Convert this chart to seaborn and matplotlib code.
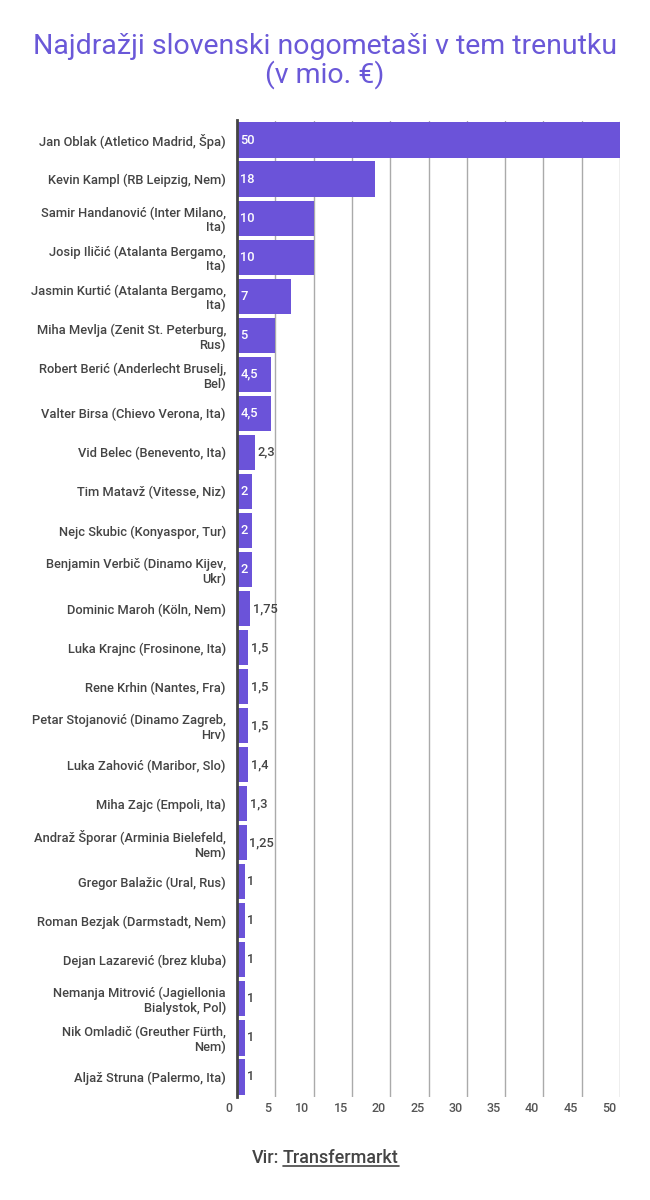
import matplotlib
matplotlib.use("Agg")
import matplotlib.pyplot as plt
import matplotlib.transforms as mtrans
import numpy as np
import pandas as pd
import seaborn as sb

# values (mio. EUR)
players = [
    "Jan Oblak (Atletico Madrid, Špa)",
    "Kevin Kampl (RB Leipzig, Nem)",
    "Samir Handanović (Inter Milano,\nIta)",
    "Josip Iličić (Atalanta Bergamo,\nIta)",
    "Jasmin Kurtić (Atalanta Bergamo,\nIta)",
    "Miha Mevlja (Zenit St. Peterburg,\nRus)",
    "Robert Berić (Anderlecht Bruselj,\nBel)",
    "Valter Birsa (Chievo Verona, Ita)",
    "Vid Belec (Benevento, Ita)",
    "Tim Matavž (Vitesse, Niz)",
    "Nejc Skubic (Konyaspor, Tur)",
    "Benjamin Verbič (Dinamo Kijev,\nUkr)",
    "Dominic Maroh (Köln, Nem)",
    "Luka Krajnc (Frosinone, Ita)",
    "Rene Krhin (Nantes, Fra)",
    "Petar Stojanović (Dinamo Zagreb,\nHrv)",
    "Luka Zahović (Maribor, Slo)",
    "Miha Zajc (Empoli, Ita)",
    "Andraž Šporar (Arminia Bielefeld,\nNem)",
    "Gregor Balažic (Ural, Rus)",
    "Roman Bezjak (Darmstadt, Nem)",
    "Dejan Lazarević (brez kluba)",
    "Nemanja Mitrović (Jagiellonia\nBialystok, Pol)",
    "Nik Omladič (Greuther Fürth,\nNem)",
    "Aljaž Struna (Palermo, Ita)",
]
values = [50, 18, 10, 10, 7, 5, 4.5, 4.5, 2.3, 2, 2, 2, 1.75, 1.5, 1.5, 1.5,
          1.4, 1.3, 1.25, 1, 1, 1, 1, 1, 1]
value_labels = ["50", "18", "10", "10", "7", "5", "4,5", "4,5", "2,3", "2", "2",
                "2", "1,75", "1,5", "1,5", "1,5", "1,4", "1,3", "1,25", "1", "1",
                "1", "1", "1", "1"]
xticks = [0, 5, 10, 15, 20, 25, 30, 35, 40, 45, 50]

title = "Najdražji slovenski nogometaši v tem trenutku\n(v mio. €)"

BAR = "#6b53d9"
TXT = "#444444"

data = pd.DataFrame({"player": players, "value": values})

sb.set_style("white")
plt.rcParams["font.family"] = ["Roboto", "DejaVu Sans"]

fig = plt.figure(figsize=(6.5, 12), dpi=100)
ax = fig.add_axes([237/650, 1 - 1096.5/1200, (620 - 237)/650, (1096.5 - 120.5)/1200])

sb.barplot(data=data, x="value", y="player", orient="h", color=BAR,
           saturation=1, width=0.9, edgecolor="none", ax=ax)

ax.set_xlim(0, 50)
ax.set_ylim(len(players) - 0.5, -0.5)
ax.set_xlabel("")
ax.set_ylabel("")

for s in ["top", "right", "bottom"]:
    ax.spines[s].set_visible(False)
ax.spines["left"].set_color(TXT)
ax.spines["left"].set_linewidth(2)
ax.spines["left"].set_zorder(5)

# vertical grid
ax.set_xticks(xticks)
ax.set_xticklabels([str(t) for t in xticks])
ax.grid(axis="x", color="#aaaaaa", linewidth=1)
ax.set_axisbelow(True)
ax.tick_params(axis="x", length=16, width=1, color="#aaaaaa", pad=-12,
               labelsize=9, labelcolor="#555555")
ax.tick_params(axis="y", length=0, pad=8, labelsize=9.3, labelcolor=TXT)
for t in ax.get_yticklabels():
    t.set_fontweight("medium")
    t.set_linespacing(1.15)

shift = mtrans.ScaledTranslation(-3/72, 0, fig.dpi_scale_trans)
for lab in ax.get_xticklabels():
    lab.set_horizontalalignment("right")
    lab.set_fontweight("medium")
    lab.set_transform(lab.get_transform() + shift)
t0 = ax.xaxis.get_major_ticks()[0]
t0.tick1line.set_color(TXT)
t0.tick1line.set_markeredgewidth(2)
t0.gridline.set_visible(False)

# value labels: inside (white) if they fit, otherwise beside the bar
fig.canvas.draw()
renderer = fig.canvas.get_renderer()
px_per_unit = ax.transData.transform((1, 0))[0] - ax.transData.transform((0, 0))[0]
for i, (v, s) in enumerate(zip(values, value_labels)):
    t = ax.text(0, i, s, fontsize=9.3, fontweight="medium", va="center")
    w = t.get_window_extent(renderer).width
    if v * px_per_unit >= w + 5:
        t.set_color("white")
        t.set_transform(ax.transData + mtrans.ScaledTranslation(2.5/72, 0, fig.dpi_scale_trans))
    else:
        t.set_x(v)
        t.set_color(TXT)
        t.set_transform(ax.transData + mtrans.ScaledTranslation(2/72, 0, fig.dpi_scale_trans))

fig.text(0.5, 1 - 61/1200, title, ha="center", va="center", fontsize=20.5,
         color="#6a58d8", linespacing=1.05)

fig.text(279/650, 1 - 1158/1200, "Vir:", ha="right", va="center",
         fontsize=13, color=TXT, fontweight="medium")
src = fig.text(283/650, 1 - 1158/1200, "Transfermarkt", ha="left", va="center",
               fontsize=13, color=TXT, fontweight="medium")
fig.canvas.draw()
bb = src.get_window_extent(renderer)
y_line = (bb.y0 + 1) / fig.bbox.height
fig.add_artist(plt.Line2D([bb.x0 / fig.bbox.width, bb.x1 / fig.bbox.width],
                          [y_line, y_line], color=TXT, linewidth=1.2))

plt.savefig("out.png", dpi=100)
